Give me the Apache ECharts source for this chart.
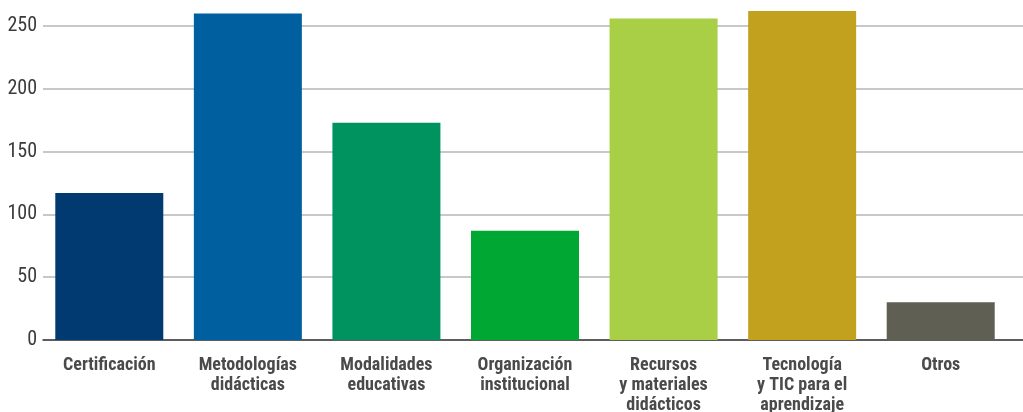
<!DOCTYPE html>
<html><head><meta charset="utf-8">
<script src="https://cdn.jsdelivr.net/npm/echarts@6/dist/echarts.min.js"></script>
<style>html,body{margin:0;padding:0;background:#fff}#c{width:1023px;height:412px}</style>
</head><body><div id="c"></div>
<script>
const categories = ["Certificación","Metodologías\ndidácticas","Modalidades\neducativas","Organización\ninstitucional","Recursos\ny materiales\ndidácticos","Tecnología\ny TIC para el\naprendizaje","Otros"];
const values = [117, 260, 173, 87, 256, 262, 30];
const barColors = ["#003a70","#005f9f","#00935f","#00a733","#a9cf46","#c2a11f","#5f5f53"];
const yTicks = [0, 50, 100, 150, 200, 250];

const FONT = '"Liberation Sans Narrow","Roboto Condensed",Roboto,sans-serif';
const chart = echarts.init(document.getElementById('c'));
chart.setOption({
  animation: false,
  grid: [
    {left: 40, right: 13, top: 1, bottom: 72, outerBoundsMode: 'none', containLabel: false},
    {left: 43, right: 0, top: 26, bottom: 72, outerBoundsMode: 'none', containLabel: false}
  ],
  xAxis: [
    {type: 'category', data: categories, gridIndex: 0,
     axisLine: {show: false}, axisTick: {show: false},
     axisLabel: {interval: 0, margin: 15, color: '#4a4a4a', fontFamily: FONT, fontWeight: 'bold', fontSize: 18, lineHeight: 20}},
    {type: 'category', data: categories, gridIndex: 1,
     axisLine: {show: true, lineStyle: {color: '#3a3a3a', width: 1.5}}, axisTick: {show: false}, axisLabel: {show: false}}
  ],
  yAxis: [
    {type: 'value', gridIndex: 0, min: 0, max: 270, interval: 10,
     axisLine: {show: false}, axisTick: {show: false}, splitLine: {show: false}, axisLabel: {show: false}},
    {type: 'value', gridIndex: 1, min: 0, max: 250, interval: 50,
     axisLine: {show: false}, axisTick: {show: false},
     axisLabel: {margin: 6, color: '#3a3a3a', fontFamily: FONT, fontSize: 20,
       formatter: v => yTicks.includes(v) ? String(v) : ''},
     splitLine: {show: true, lineStyle: {color: '#c8c8c8', width: 2}}}
  ],
  series: [{
    type: 'bar', xAxisIndex: 0, yAxisIndex: 0, barWidth: 108, z: 3,
    data: values.map((v, i) => ({value: v, itemStyle: {color: barColors[i]}}))
  }]
});
</script></body></html>
